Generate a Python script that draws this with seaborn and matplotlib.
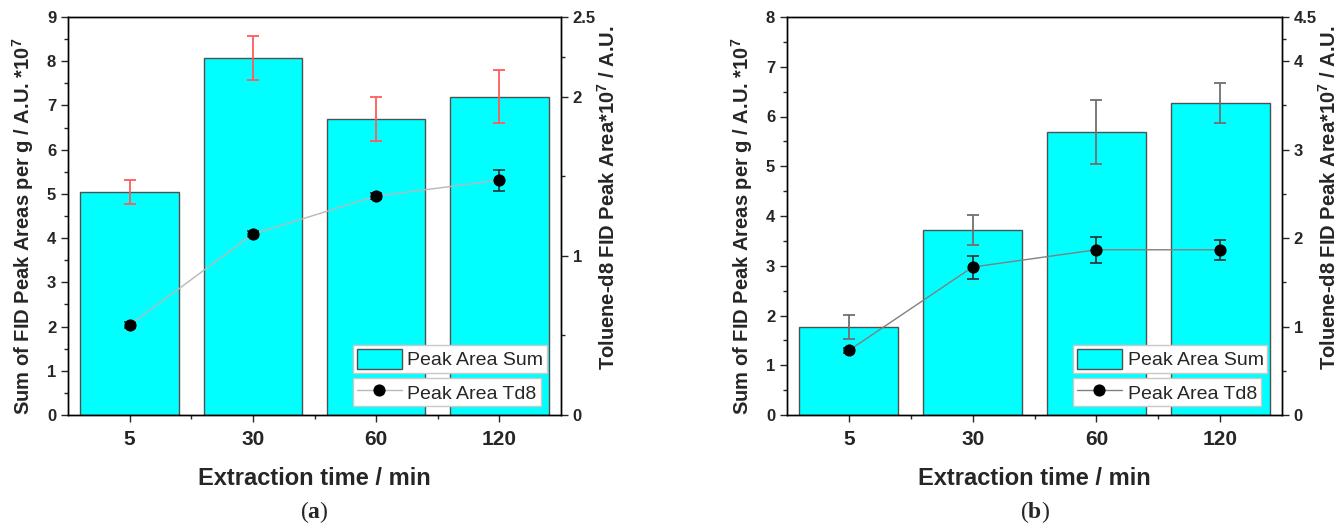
import numpy as np
import pandas as pd
import matplotlib
matplotlib.use("Agg")
import matplotlib.pyplot as plt
from matplotlib.ticker import MultipleLocator, FixedLocator
import seaborn as sns

sns.set_style("ticks")
plt.rcParams["font.family"] = ["Liberation Sans", "DejaVu Sans"]
plt.rcParams["mathtext.fontset"] = "custom"
plt.rcParams["mathtext.rm"] = "Liberation Sans:bold"
plt.rcParams["mathtext.bf"] = "Liberation Serif:bold"

# ---- data ----
times = ["5", "30", "60", "120"]

sum_a = [5.05, 8.08, 6.70, 7.20]
sum_a_err = [0.27, 0.50, 0.50, 0.60]
td8_a = [0.565, 1.136, 1.375, 1.475]
td8_a_err = [0.02, 0.02, 0.02, 0.065]

sum_b = [1.77, 3.72, 5.69, 6.27]
sum_b_err = [0.25, 0.30, 0.65, 0.40]
td8_b = [0.73, 1.673, 1.868, 1.868]
td8_b_err = [0.03, 0.13, 0.15, 0.115]

left_label = r"Sum of FID Peak Areas per g / A.U. *10$^{\mathrm{7}}$"
right_label = r"Toluene-d8 FID Peak Area*10$^{\mathrm{7}}$ / A.U."
x_label = "Extraction time / min"
leg1 = "Peak Area Sum"
leg2 = "Peak Area Td8"

W, H = 1338, 527
fig = plt.figure(figsize=(W / 100, H / 100), dpi=100)


def panel(x0px, x1px, sums, sums_err, td8, td8_err, ylim1, ylim2, r_ticks, r_minor,
          err_color, line_color, tag):
    ax = fig.add_axes([x0px / W, 1 - 415 / H, (x1px - x0px) / W, (415 - 17) / H])
    df = pd.DataFrame({"time": times, "value": sums})
    sns.barplot(data=df, x="time", y="value", color="#00FFFF", saturation=1,
                width=0.8, errorbar=None, edgecolor="#505050", linewidth=1.0, ax=ax)
    pos = np.arange(len(times))
    ax.errorbar(pos, sums, yerr=sums_err, fmt="none", ecolor=err_color,
                elinewidth=1.3, capsize=4, capthick=1.3, zorder=3)
    ax.set_xlim(-0.5, 3.5)
    ax.set_ylim(*ylim1)
    ax.yaxis.set_major_locator(MultipleLocator(1))
    ax.yaxis.set_minor_locator(MultipleLocator(0.5))
    ax.xaxis.set_minor_locator(FixedLocator([0.5, 1.5, 2.5]))
    ax.tick_params(axis="y", which="major", length=5, width=1, labelsize=12)
    ax.tick_params(axis="y", which="minor", length=3, width=1)
    ax.tick_params(axis="x", which="major", length=5, width=1, labelsize=15, pad=6)
    ax.tick_params(axis="x", which="minor", length=3, width=1)
    for lab in ax.get_xticklabels() + ax.get_yticklabels():
        lab.set_fontweight("bold")
    ax.set_xlabel(x_label, fontsize=17, fontweight="bold", labelpad=13)
    ax.set_ylabel(left_label, fontsize=14.5, fontweight="bold")
    ax.yaxis.set_label_coords(-0.065, 0.475)
    for s in ax.spines.values():
        s.set_visible(True)
        s.set_color("black")
        s.set_linewidth(1.0)

    ax2 = ax.twinx()
    ax2.errorbar(pos, td8, yerr=td8_err, fmt="none", ecolor="#303030",
                 elinewidth=1.2, capsize=4, capthick=1.2, zorder=4)
    sns.lineplot(x=pos, y=td8, color=line_color, linewidth=1.0, marker="o",
                 markersize=8, markerfacecolor="black", markeredgecolor="black",
                 ax=ax2, zorder=5)
    ax2.set_ylim(*ylim2)
    ax2.yaxis.set_major_locator(FixedLocator(r_ticks))
    ax2.yaxis.set_minor_locator(FixedLocator(r_minor))
    ax2.set_yticklabels([("%g" % t) for t in r_ticks], fontweight="bold")
    ax2.tick_params(axis="y", which="major", length=5, width=1, labelsize=12)
    ax2.tick_params(axis="y", which="minor", length=3, width=1)
    ax2.set_ylabel(right_label, fontsize=14.5, fontweight="bold")
    ax2.yaxis.set_label_coords(1.072, 0.545)
    ax2.set_xlim(-0.5, 3.5)
    for s in ax2.spines.values():
        s.set_visible(True)
        s.set_color("black")
        s.set_linewidth(1.0)

    # legends (two separate boxes)
    bar_handle = ax.patches[0]
    line_handle = ax2.get_lines()[-1]
    common = dict(fontsize=14, frameon=True, fancybox=False, framealpha=1,
                  edgecolor="#c8c8c8", handlelength=2.3, handleheight=1.15,
                  handletextpad=0.3, borderpad=0.2, borderaxespad=0, loc="upper left")
    L1 = ax2.legend([bar_handle], [leg1], bbox_to_anchor=(0.578, 0.175), **common)
    L1.get_frame().set_linewidth(1.0)
    ax2.add_artist(L1)
    L2 = ax2.legend([line_handle], [leg2], bbox_to_anchor=(0.578, 0.092), **common)
    L2.get_frame().set_linewidth(1.0)

    xc = (x0px + x1px) / 2
    fig.text(xc / W, 1 - 512 / H, "(" + r"$\mathbf{" + tag + "}$" + ")",
             ha="center", va="center", fontsize=17, family="Liberation Serif")


panel(68, 561, sum_a, sum_a_err, td8_a, td8_a_err, (0, 9), (0, 2.5),
      [0, 1, 2, 2.5], [0.5, 1.5, 2.25], "#ff5a5a", "#b8b8b8", "a")
panel(787, 1282, sum_b, sum_b_err, td8_b, td8_b_err, (0, 8), (0, 4.5),
      [0, 1, 2, 3, 4, 4.5], [0.5, 1.5, 2.5, 3.5, 4.25], "#707070", "#808080", "b")

fig.savefig("out.png", dpi=100)
